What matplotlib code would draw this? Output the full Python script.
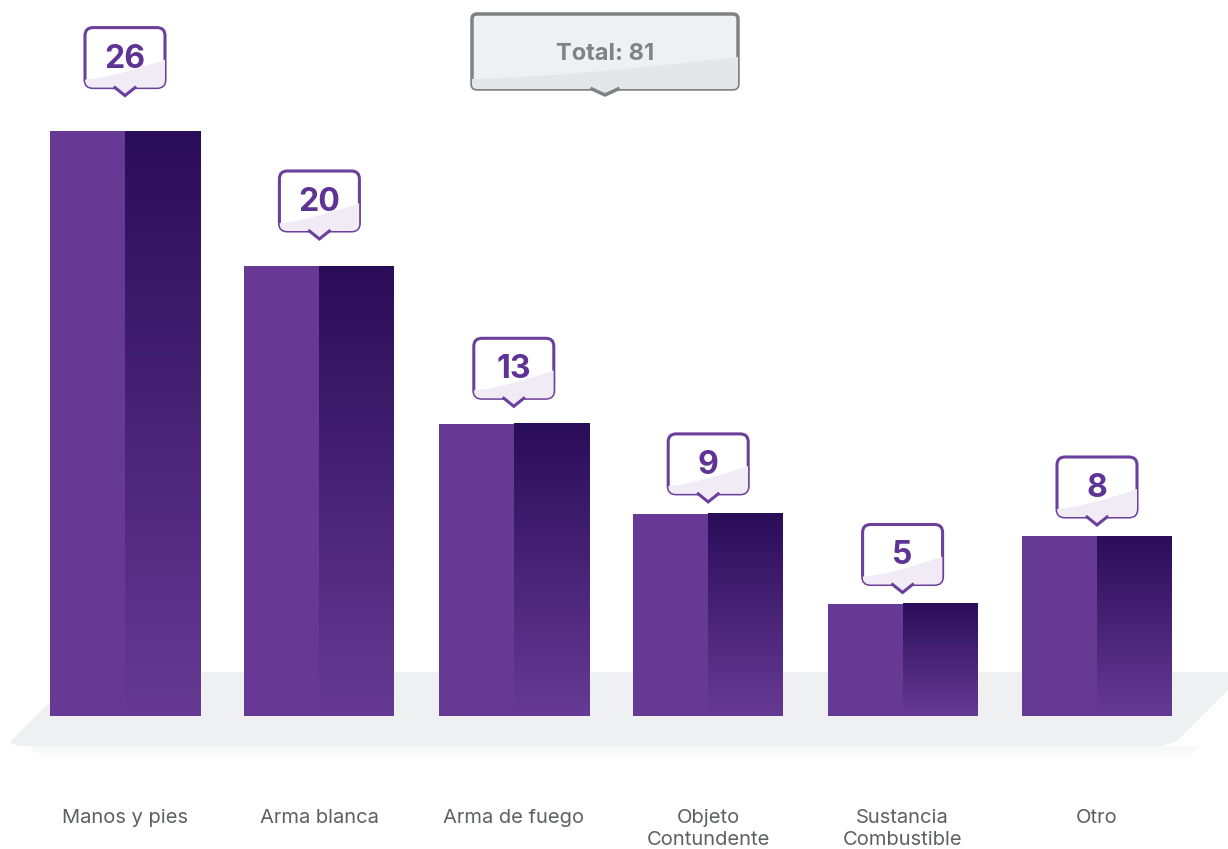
import numpy as np
import matplotlib
matplotlib.use('Agg')
import matplotlib.pyplot as plt
from matplotlib.patches import FancyBboxPatch, Polygon
from matplotlib.colors import LinearSegmentedColormap
from matplotlib.transforms import IdentityTransform

# datos
categorias = ['Manos y pies', 'Arma blanca', 'Arma de fuego',
              'Objeto\nContundente', 'Sustancia\nCombustible', 'Otro']
valores = [26, 20, 13, 9, 5, 8]
total = 81

W, H = 1228, 849
morado = '#663a94'
morado_osc = '#2a0d59'
borde = '#6b3f9c'
texto_num = '#5f3395'

plt.rcParams['font.family'] = ['Inter', 'DejaVu Sans']

fig = plt.figure(figsize=(W / 100, H / 100), dpi=100)
ax = fig.add_axes([0, 0, 1, 1])
ax.axis('off')

# escala: barra 0 centrada en x=125px, paso 194.4px; base en y=716px, 22.5px por unidad
paso, x0 = 194.4, 125
base_y, px_u = 716, 22.5
ax.set_xlim(-x0 / paso, (W - x0) / paso)
ax.set_ylim(-(H - base_y) / px_u, base_y / px_u)

ID = IdentityTransform()


def px(x, y):
    # coordenadas en pixeles (y desde arriba) -> display
    return (x, H - y)


# plataforma gris
plat = Polygon([px(80, 672), px(1246, 672), px(1176, 742), px(1160, 746),
                px(18, 746), px(10, 742)],
               closed=True, facecolor='#eff0f2', edgecolor='none',
               transform=ID, zorder=0)
ax.add_patch(plat)
for k in range(14):
    sh = Polygon([px(30 + k, 746 + k), px(1200 - k, 746 + k),
                  px(1200 - k, 747 + k), px(30 + k, 747 + k)],
                 closed=True, facecolor='#e4e5e8', alpha=0.3 * (1 - k / 14),
                 edgecolor='none', transform=ID, zorder=0)
    ax.add_patch(sh)

# barras
ancho = 150 / paso
cmap = LinearSegmentedColormap.from_list('grad', [morado, morado_osc])
grad = np.linspace(0, 1, 256).reshape(-1, 1)
xs = np.arange(len(valores))
ax.bar(xs - ancho / 4, valores, width=ancho / 2, color=morado, zorder=2)
for x, v in zip(xs, valores):
    ax.imshow(grad, cmap=cmap, origin='lower', aspect='auto',
              extent=(x, x + ancho / 2, 0, v), zorder=2, interpolation='bilinear')

# etiquetas de valor tipo globo
for x, v in zip(xs, valores):
    cx, top = ax.transData.transform((x, v))
    tip = top + max(1.4 * v - 1, 11)
    bw, bh, pt = 80, 60, 8
    bx, by = cx - bw / 2, tip + pt
    caja = FancyBboxPatch((bx, by), bw, bh, boxstyle='round,pad=0,rounding_size=8',
                          facecolor='white', edgecolor=borde, linewidth=2.2,
                          transform=ID, zorder=4)
    ax.add_patch(caja)
    t = np.linspace(0, 1, 40)
    curva = [(bx + bw * s, by + 8 + 20 * s ** 1.4) for s in t]
    lav = Polygon([(bx, by - 2)] + curva + [(bx + bw, by - 2)], closed=True,
                  facecolor='#f0ebf5', edgecolor='none', transform=ID, zorder=4)
    ax.add_patch(lav)
    lav.set_clip_path(caja)
    tri = Polygon([(cx - 10, by + 1.2), (cx, tip), (cx + 10, by + 1.2)], closed=True,
                  facecolor='#f0ebf5', edgecolor='none', transform=ID, zorder=5)
    ax.add_patch(tri)
    ax.plot([cx - 10, cx, cx + 10], [by, tip, by], color=borde, lw=2.2,
            transform=ID, zorder=5, solid_joinstyle='miter')
    ax.text(cx, by + bh / 2 - 1.5, str(v), transform=ID, ha='center', va='center',
            fontsize=23, fontweight='bold', color=texto_num, zorder=6)

# caja total
tx0, ty0, tw, th = 472, H - 89, 266, 75
tcaja = FancyBboxPatch((tx0, ty0), tw, th, boxstyle='round,pad=0,rounding_size=5',
                       facecolor='#eff0f3', edgecolor='#7f8184', linewidth=2.5,
                       transform=ID, zorder=4)
ax.add_patch(tcaja)
t = np.linspace(0, 1, 40)
curva = [(tx0 + tw * s, ty0 + 10 + 22 * s ** 1.4) for s in t]
gris = Polygon([(tx0, ty0 - 2)] + curva + [(tx0 + tw, ty0 - 2)], closed=True,
               facecolor='#e5e6ea', edgecolor='none', transform=ID, zorder=4)
ax.add_patch(gris)
gris.set_clip_path(tcaja)
tcx = tx0 + tw / 2
ttip = ty0 - 6
ax.add_patch(Polygon([(tcx - 13, ty0 + 1.3), (tcx, ttip), (tcx + 13, ty0 + 1.3)],
                     closed=True, facecolor='#e5e6ea', edgecolor='none',
                     transform=ID, zorder=5))
ax.plot([tcx - 13, tcx, tcx + 13], [ty0, ttip, ty0], color='#7f8184', lw=2.5,
        transform=ID, zorder=5)
ax.text(tcx, H - 54, f'Total: {total}', transform=ID, ha='center', va='center',
        fontsize=17, fontweight='bold', color='#808285', zorder=6)

# categorias
for x, c in zip(xs, categorias):
    ax.text(x, -(809 - base_y) / px_u, c, ha='center', va='top', fontsize=14.5,
            color='#5f6062', linespacing=1.32)

fig.savefig('out.png', dpi=100, facecolor='white')
